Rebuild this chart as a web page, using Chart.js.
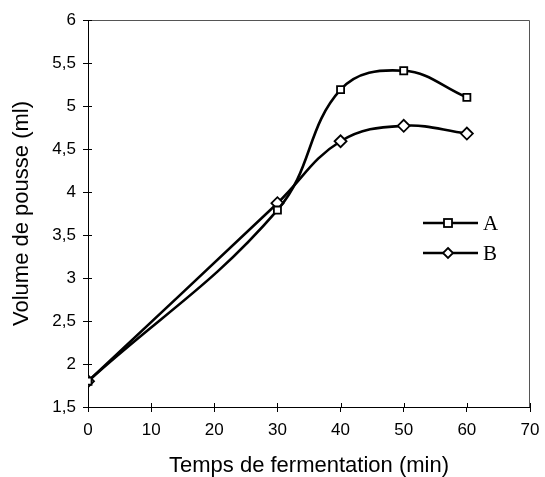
<!DOCTYPE html>
<html>
<head>
<meta charset="utf-8">
<script src="https://cdn.jsdelivr.net/npm/chart.js@4/dist/chart.umd.min.js"></script>
<style>
  html, body { margin: 0; padding: 0; background: #fff; }
  #wrap { width: 545px; height: 477px; }
</style>
</head>
<body>
<div id="wrap"><canvas id="chart" width="545" height="477"></canvas></div>
<script>
// temps (min) and volumes
const times = [0, 30, 40, 50, 60];
const volumeA = [1.8, 3.79, 5.19, 5.41, 5.1];
const volumeB = [1.8, 3.87, 4.59, 4.77, 4.68];
const seriesNames = ["A", "B"];
const xTicks = [0, 10, 20, 30, 40, 50, 60, 70];
const yTicks = [1.5, 2, 2.5, 3, 3.5, 4, 4.5, 5, 5.5, 6];

const toPoints = function (ys) {
  return times.map((t, i) => ({ x: t, y: ys[i] }));
};

// frame on top and right, inner half of the ticks, legend inside the plot
const frameAndLegend = {
  id: "frameAndLegend",
  afterDraw(chart) {
    const ctx = chart.ctx;
    const a = chart.chartArea;
    ctx.save();
    ctx.strokeStyle = "#555";
    ctx.lineWidth = 1;
    ctx.beginPath();
    ctx.moveTo(a.left, a.top + 0.5);
    ctx.lineTo(a.right - 0.5, a.top + 0.5);
    ctx.lineTo(a.right - 0.5, a.bottom);
    ctx.stroke();

    ctx.strokeStyle = "#000";
    ctx.beginPath();
    xTicks.forEach((v) => {
      const px = Math.round(chart.scales.x.getPixelForValue(v)) + 0.5;
      ctx.moveTo(px, a.bottom);
      ctx.lineTo(px, a.bottom - 4);
    });
    yTicks.forEach((v) => {
      const py = Math.round(chart.scales.y.getPixelForValue(v)) + 0.5;
      ctx.moveTo(a.left, py);
      ctx.lineTo(a.left + 4, py);
    });
    ctx.stroke();

    const rows = [223, 253];
    chart.data.datasets.forEach((ds, i) => {
      const y = rows[i];
      ctx.strokeStyle = "#000";
      ctx.lineWidth = 2.5;
      ctx.beginPath();
      ctx.moveTo(423, y);
      ctx.lineTo(478, y);
      ctx.stroke();
      ctx.fillStyle = "#fff";
      ctx.lineWidth = 1.8;
      if (ds.pointStyle === "rect") {
        ctx.fillRect(444, y - 4, 8, 8);
        ctx.strokeRect(444, y - 4, 8, 8);
      } else {
        ctx.beginPath();
        ctx.moveTo(448, y - 5);
        ctx.lineTo(453, y);
        ctx.lineTo(448, y + 5);
        ctx.lineTo(443, y);
        ctx.closePath();
        ctx.fill();
        ctx.stroke();
      }
      ctx.fillStyle = "#000";
      ctx.font = "21px 'Liberation Serif', serif";
      ctx.textBaseline = "middle";
      ctx.fillText(ds.label, 483, y + 1);
    });
    ctx.restore();
  },
};

const makeDataset = function (label, ys, style) {
  return {
    label: label,
    data: toPoints(ys),
    borderColor: "#000",
    borderWidth: 2.6,
    tension: 0.4,
    pointStyle: style,
    pointRadius: style === "rect" ? 5 : 6,
    pointBorderWidth: 1.8,
    pointBackgroundColor: "#fff",
    pointBorderColor: "#000",
  };
};

new Chart(document.getElementById("chart"), {
  type: "line",
  data: {
    datasets: [
      makeDataset(seriesNames[0], volumeA, "rect"),
      makeDataset(seriesNames[1], volumeB, "rectRot"),
    ],
  },
  options: {
    responsive: false,
    animation: false,
    layout: { padding: { top: 20, right: 15, left: 9, bottom: 0 } },
    plugins: { legend: { display: false }, tooltip: { enabled: false } },
    scales: {
      x: {
        type: "linear",
        min: 0,
        max: 70,
        afterBuildTicks: (s) => { s.ticks = xTicks.map((v) => ({ value: v })); },
        afterFit: (s) => {
          s.height = 70;
          s.paddingLeft = 0;
          s.paddingRight = 0;
        },
        border: { color: "#000", width: 1 },
        grid: { drawOnChartArea: false, color: "#000", tickLength: 5 },
        ticks: {
          color: "#000",
          padding: 8,
          font: { family: "'Liberation Sans', Arial", size: 17 },
        },
        title: {
          display: true,
          text: "Temps de fermentation (min)",
          color: "#000",
          font: { family: "'Liberation Sans', Arial", size: 22 },
          padding: { top: 4, bottom: -2 },
        },
      },
      y: {
        min: 1.5,
        max: 6,
        afterBuildTicks: (s) => { s.ticks = yTicks.map((v) => ({ value: v })); },
        afterFit: (s) => {
          s.width = 79;
          s.paddingTop = 0;
          s.paddingBottom = 0;
        },
        border: { color: "#000", width: 1 },
        grid: { drawOnChartArea: false, color: "#000", tickLength: 5 },
        ticks: {
          color: "#000",
          padding: 7,
          font: { family: "'Liberation Sans', Arial", size: 17 },
          callback: (v) => String(v).replace(".", ","),
        },
        title: {
          display: true,
          text: "Volume de pousse (ml)",
          color: "#000",
          font: { family: "'Liberation Sans', Arial", size: 22 },
          padding: { top: 0, bottom: 0 },
        },
      },
    },
  },
  plugins: [frameAndLegend],
});
</script>
</body>
</html>
